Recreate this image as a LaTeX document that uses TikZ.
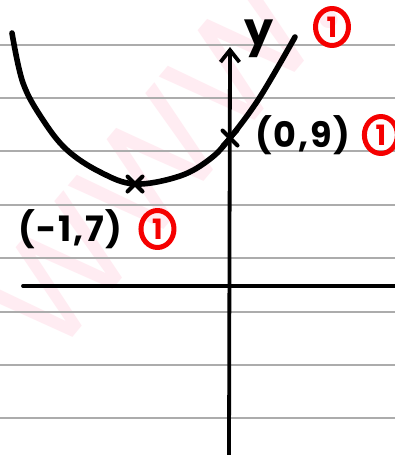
\documentclass[tikz,border=0pt]{standalone}
\usepackage{fontspec}
\setmainfont{Poppins}
\newfontfamily\handfont[LetterSpace=5]{Poppins}
\usetikzlibrary{positioning,arrows.meta,shapes.misc}
\definecolor{ruleline}{RGB}{172,172,172}
\definecolor{markred}{RGB}{245,0,0}
\definecolor{stamppink}{RGB}{255,236,242}

\begin{document}
\begin{tikzpicture}[x=1pt, y=-1pt, line cap=round, line join=round,
        pen/.style={line width=5.6pt, black},
        ruled/.style={line width=1.5pt, color=ruleline},
        axisline/.style={line width=3.8pt, black},
        crossmark/.style={cross out, draw=black, line width=4pt, minimum size=11pt, inner sep=0pt},
        coordlabel/.style={font=\handfont\bfseries\fontsize{35}{35}\selectfont, inner sep=0pt},
        markone/.style={text=markred, minimum width=33pt, minimum height=37pt, inner sep=0pt, font=\fontsize{28}{28}\selectfont\bfseries},
        redring/.style={draw=markred, line width=5pt}]
        \useasboundingbox (0,0) rectangle (395,455);
        \fill[white] (0,0) rectangle (395,455);

        % Watermark
        \node[rotate=50, text=stamppink, font=\fontsize{145}{145}\selectfont] (stamp) at (160,155) {WWW.};

        % Ruled paper lines
        \foreach \y in {45,98,151,205,258,312,365,418}
            \draw[ruled] (0,\y) -- (395,\y);

        % Axes
        \coordinate (xleft) at (23,286);
        \coordinate (xright) at (395,286);
        \coordinate (ybot) at (229,455);
        \coordinate (ytop) at (230,47);
        \draw[axisline] (xleft) -- (xright);
        \draw[axisline, -{Straight Barb[length=12pt, width=19pt, line width=3.8pt]}] (ybot) -- (ytop);
        \node[font=\bfseries\fontsize{46}{46}\selectfont, inner sep=0pt] (ylab) at (259,39) {y};

        % Marked points
        \node[crossmark] (vertex) at (135,184) {};
        \node[crossmark] (yint) at (230,138) {};

        % Curve
        \draw[pen] plot[smooth, tension=0.6] coordinates {
            (12,33) (23,83) (43,120) (67,150) (100,172) (vertex.center)
            (180,176) (210,159) (yint.center) (260,97) (295,37)
        };

        % Labels
        \node[coordlabel, anchor=west] (lab09) at (255,135) {(0,9)};
        \node[coordlabel, anchor=west] (lab17) at (18,229) {(-1,7)};

        % Marks
        \node[markone] (markcurve) at (332,27) {1};
        \node[markone, right=14pt of lab09] (mark09) {1};
        \node[markone, right=18pt of lab17] (mark17) {1};
        \foreach \m in {markcurve,mark09,mark17}
            \draw[redring] (\m.center) ellipse [x radius=16.5pt, y radius=18.5pt];
    \end{tikzpicture}
\end{document}
